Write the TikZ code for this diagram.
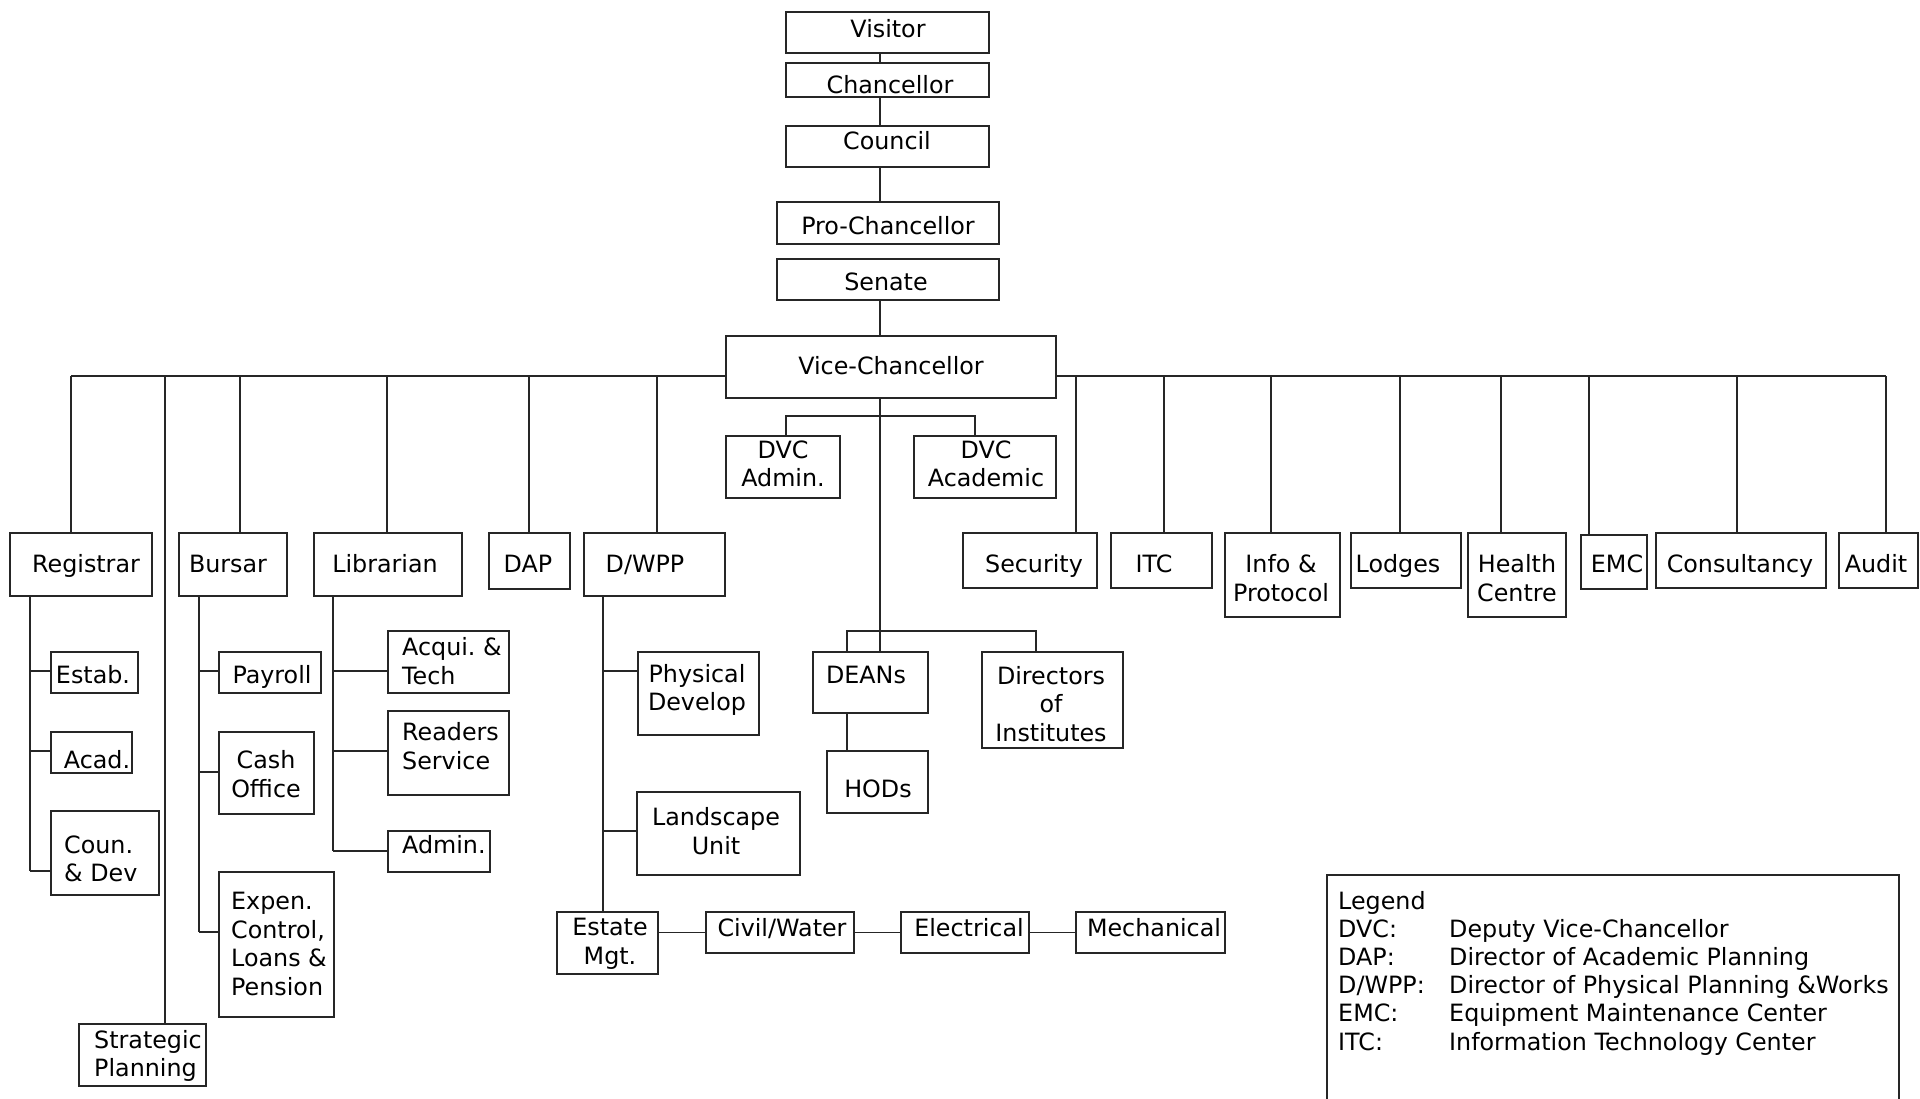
\documentclass[tikz,border=0pt]{standalone}
\usepackage{fontspec}
\setmainfont{DejaVu Sans}
\usetikzlibrary{fit}
\frenchspacing
\newcommand\bx[5]{\node[box, fit={(#2,#3) (#4,#5)}] (#1) {};}
\begin{document}
\begin{tikzpicture}[x=1pt,y=-1pt,
  box/.style={draw=black!85, line width=1.2pt, inner sep=0pt},
  conn/.style={draw=black!85, line width=1.2pt},
  t/.style={inner sep=0pt, font=\fontsize{23.8}{28.5}\selectfont, text height=17.3pt, text depth=0pt},
  tm/.style={inner sep=0pt, font=\fontsize{23.8}{28.5}\selectfont, align=center},
  tl/.style={inner sep=0pt, font=\fontsize{23.8}{28.5}\selectfont, align=left, anchor=west}]
\useasboundingbox (0,0) rectangle (1920,1098);
% ---- boxes
\bx{visitor}{786}{12}{989}{53}
\bx{chancellor}{786}{63}{989}{97}
\bx{council}{786}{126}{989}{167}
\bx{prochan}{777}{202}{999}{244}
\bx{senate}{777}{259}{999}{300}
\bx{vc}{726}{336}{1056}{398}
\bx{reg}{10}{533}{152}{596}
\bx{bursar}{179}{533}{287}{596}
\bx{lib}{314}{533}{462}{596}
\bx{dap}{489}{533}{570}{589}
\bx{dwpp}{584}{533}{725}{596}
\bx{dvcadm}{726}{436}{840}{498}
\bx{dvcac}{914}{436}{1056}{498}
\bx{sec}{963}{533}{1097}{588}
\bx{itc}{1111}{533}{1212}{588}
\bx{info}{1225}{533}{1340}{617}
\bx{lodges}{1351}{533}{1461}{588}
\bx{health}{1468}{533}{1566}{617}
\bx{emc}{1581}{535}{1647}{589}
\bx{cons}{1656}{533}{1826}{588}
\bx{audit}{1839}{533}{1918}{588}
\bx{estab}{51}{652}{138}{693}
\bx{acad}{51}{732}{132}{773}
\bx{coun}{51}{811}{159}{895}
\bx{strat}{79}{1024}{206}{1086}
\bx{payroll}{219}{652}{321}{693}
\bx{cash}{219}{732}{314}{814}
\bx{expen}{219}{872}{334}{1017}
\bx{acqui}{388}{631}{509}{693}
\bx{readers}{388}{711}{509}{795}
\bx{admin}{388}{831}{490}{872}
\bx{phys}{638}{652}{759}{735}
\bx{land}{637}{792}{800}{875}
\bx{estate}{557}{912}{658}{974}
\bx{civil}{706}{912}{854}{953}
\bx{elec}{901}{912}{1029}{953}
\bx{mech}{1076}{912}{1225}{953}
\bx{deans}{813}{652}{928}{713}
\bx{dirs}{982}{652}{1123}{748}
\bx{hods}{827}{751}{928}{813}
% ---- texts
\node[t] (visitor-t) at (888,29) {Visitor};
\node[t] (chan-t) at (890,85) {Chancellor};
\node[t] (council-t) at (887,141) {Council};
\node[t] (pro-t) at (888,226) {Pro-Chancellor};
\node[t] (senate-t) at (886,282) {Senate};
\node[t] (vc-t) at (891,366) {Vice-Chancellor};
\node[t] (reg-t) at (86,564) {Registrar};
\node[t] (bursar-t) at (228,564) {Bursar};
\node[t] (lib-t) at (385,564) {Librarian};
\node[t] (dap-t) at (528,564) {DAP};
\node[t] (dwpp-t) at (645,564) {D/WPP};
\node[t] (sec-t) at (1034,564) {Security};
\node[t] (itc-t) at (1154,564) {ITC};
\node[t] (lodges-t) at (1398,564) {Lodges};
\node[t] (emc-t) at (1617,564) {EMC};
\node[t] (cons-t) at (1740,564) {Consultancy};
\node[t] (audit-t) at (1876,564) {Audit};
\node[t] (estab-t) at (93,675) {Estab.};
\node[t] (acad-t) at (97,760) {Acad.};
\node[t] (payroll-t) at (272,675) {Payroll};
\node[t,anchor=west] (admin-t) at (402,845) {Admin.};
\node[t] (deans-t) at (866,675) {DEANs};
\node[t] (hods-t) at (878,789) {HODs};
\node[t] (civil-t) at (782,928) {Civil/Water};
\node[t] (elec-t) at (969,928) {Electrical};
\node[t] (mech-t) at (1154,928) {Mechanical};
\node[tm] (info-t) at (1281,578) {Info \&\\Protocol};
\node[tm] (health-t) at (1517,578) {Health\\Centre};
\node[tm] (dvcadm-t) at (783,464) {DVC\\Admin.};
\node[tm] (dvcac-t) at (986,464) {DVC\\Academic};
\node[tm] (phys-t) at (697,690) {Physical\\Develop};
\node[tm] (dirs-t) at (1051,704) {Directors\\of\\Institutes};
\node[tm] (land-t) at (716,831) {Landscape\\Unit};
\node[tm] (estate-t) at (610,944) {Estate\\Mgt.};
\node[tm] (cash-t) at (266,774) {Cash\\Office};
\node[tl] (coun-t) at (64,859) {Coun.\\\& Dev};
\node[tl] (strat-t) at (94,1056) {Strategic\\Planning};
\node[tl] (expen-t) at (231,944) {Expen.\\Control,\\Loans \&\\Pension};
\node[tl] (acqui-t) at (402,661) {Acqui. \&\\Tech};
\node[tl] (readers-t) at (402,746) {Readers\\Service};
% ---- top chain
\coordinate (cx) at (880,0);
\draw[conn] (visitor.south -| cx) -- (chancellor.north -| cx);
\draw[conn] (chancellor.south -| cx) -- (council.north -| cx);
\draw[conn] (council.south -| cx) -- (prochan.north -| cx);
\draw[conn] (senate.south -| cx) -- (vc.north -| cx);
% ---- bus
\coordinate (bl) at (71,376);
\coordinate (br) at (1886,376);
\draw[conn] (bl) -- (vc.west |- bl);
\draw[conn] (vc.east |- br) -- (br);
\foreach \x/\n in {71/reg,165/strat,240/bursar,387/lib,529/dap,657/dwpp,1076/sec,1164/itc,1271/info,1400/lodges,1501/health,1589/emc,1737/cons,1886/audit}{
  \coordinate (j-\n) at (\x,376);
  \draw[conn] (j-\n) -- (\n.north -| j-\n);
}
% ---- DVCs
\coordinate (dvcL) at (786,416);
\coordinate (dvcR) at (975,416);
\draw[conn] (dvcadm.north -| dvcL) -- (dvcL) -- (dvcR) -- (dvcac.north -| dvcR);
% ---- deans
\draw[conn] (vc.south -| cx) -- (deans.north -| cx);
\coordinate (dL) at (847,631);
\coordinate (dR) at (1036,631);
\draw[conn] (deans.north -| dL) -- (dL) -- (dR) -- (dirs.north -| dR);
\draw[conn] (deans.south -| dL) -- (hods.north -| dL);
% ---- registrar
\coordinate (r1) at (30,671); \coordinate (r2) at (30,751); \coordinate (r3) at (30,871);
\draw[conn] (reg.south -| r1) -- (r3);
\draw[conn] (r1) -- (estab.west |- r1);
\draw[conn] (r2) -- (acad.west |- r2);
\draw[conn] (r3) -- (coun.west |- r3);
% ---- bursar
\coordinate (b1) at (199,671); \coordinate (b2) at (199,772); \coordinate (b3) at (199,932);
\draw[conn] (bursar.south -| b1) -- (b3);
\draw[conn] (b1) -- (payroll.west |- b1);
\draw[conn] (b2) -- (cash.west |- b2);
\draw[conn] (b3) -- (expen.west |- b3);
% ---- librarian
\coordinate (l1) at (333,671); \coordinate (l2) at (333,751); \coordinate (l3) at (333,851);
\draw[conn] (lib.south -| l1) -- (l3);
\draw[conn] (l1) -- (acqui.west |- l1);
\draw[conn] (l2) -- (readers.west |- l2);
\draw[conn] (l3) -- (admin.west |- l3);
% ---- D/WPP
\coordinate (w1) at (603,671); \coordinate (w2) at (603,831);
\draw[conn] (dwpp.south -| w1) -- (estate.north -| w1);
\draw[conn] (w1) -- (phys.west |- w1);
\draw[conn] (w2) -- (land.west |- w2);
\draw[conn] (civil.west -| estate.east) -- (civil.west);
\draw[conn] (civil.east) -- (elec.west);
\draw[conn] (elec.east) -- (mech.west);
% ---- legend
\draw[conn] (1327,1100) -- (1327,875) -- (1899,875) -- (1899,1100);
\node[inner sep=0pt, anchor=base west, font=\fontsize{23.8}{28.2}\selectfont] (legend) at (1338,909)
 {\begin{tabular}[t]{@{}p{111pt}@{}l@{}}
 Legend & \\
 DVC: & Deputy Vice-Chancellor\\
 DAP: & Director of Academic Planning\\
 D/WPP: & Director of Physical Planning \&Works\\
 EMC: & Equipment Maintenance Center\\
 ITC: & Information Technology Center
 \end{tabular}};
\end{tikzpicture}
\end{document}
